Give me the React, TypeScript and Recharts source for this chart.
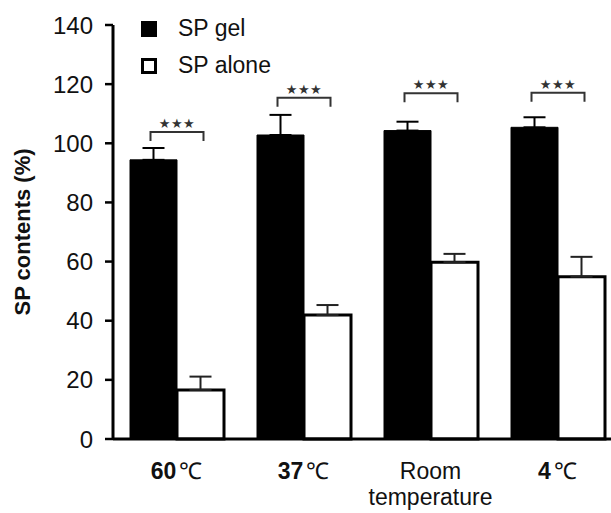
import React from "react";
import { BarChart, Bar, XAxis, YAxis, ErrorBar, LabelList, Label } from "recharts";

const categories = ["60℃", "37℃", "Room temperature", "4℃"];
const spGel = [94.4, 102.8, 104.3, 105.4];
const spGelErr = [4.0, 6.8, 3.0, 3.4];
const spAlone = [16.6, 41.9, 59.8, 54.9];
const spAloneErr = [4.5, 3.4, 2.8, 6.7];
const sigLevel = [103.8, 115.4, 116.9, 117.1];
const sigText = ["★★★", "★★★", "★★★", "★★★"];
const yTicks = [0, 20, 40, 60, 80, 100, 120, 140];
const seriesNames = ["SP gel", "SP alone"];

const data = categories.map((name, i) => ({
  name,
  gel: spGel[i],
  gelErr: [0, spGelErr[i]],
  alone: spAlone[i],
  aloneErr: [0, spAloneErr[i]],
  sig: sigLevel[i],
}));

const FONT = "'Liberation Sans', Arial, sans-serif";

function XTick(props: any) {
  const { x, y, payload } = props;
  const label: string = payload.value;
  if (label === "Room temperature") {
    return (
      <g transform={`translate(${x},${y})`}>
        <text textAnchor="middle" fontFamily={FONT} fontSize={23} fill="#111">
          <tspan x={0} dy={32}>Room</tspan>
          <tspan x={0} dy={26}>temperature</tspan>
        </text>
      </g>
    );
  }
  const num = label.replace("℃", "");
  return (
    <g transform={`translate(${x},${y})`}>
      <text textAnchor="middle" fontFamily={FONT} fontSize={23} fill="#111" dy={32}>
        <tspan fontWeight="bold">{num}</tspan>
        <tspan dx={3}>℃</tspan>
      </text>
    </g>
  );
}

function SigBracket(props: any) {
  const { x, y, width, height, value, index } = props;
  const bx = Number(x);
  const bw = Number(width);
  const by = Number(y);
  const bh = Number(height);
  const base = by + bh;
  const ppu = bh / spAlone[index];
  const top = base - Number(value) * ppu;
  const x1 = bx - bw / 2 - 3;
  const x2 = bx + bw / 2 + 3;
  const leg = 9;
  return (
    <g>
      <path
        d={`M${x1},${top + leg} L${x1},${top} L${x2},${top} L${x2},${top + leg}`}
        stroke="#333"
        strokeWidth={2}
        fill="none"
      />
      <text
        x={(x1 + x2) / 2}
        y={top - 4}
        textAnchor="middle"
        fontFamily="'DejaVu Sans', sans-serif"
        fontSize={13}
        letterSpacing={0.5}
        fill="#333"
      >
        {sigText[index]}
      </text>
    </g>
  );
}

function LegendBox() {
  return (
    <div
      style={{
        position: "absolute",
        left: 141,
        top: 10,
        fontFamily: FONT,
        fontSize: 23,
        color: "#111",
        lineHeight: "37px",
      }}
    >
      <div style={{ display: "flex", alignItems: "center" }}>
        <span style={{ width: 16, height: 16, background: "#000", display: "inline-block", marginRight: 21 }} />
        {seriesNames[0]}
      </div>
      <div style={{ display: "flex", alignItems: "center" }}>
        <span
          style={{
            width: 10,
            height: 10,
            border: "3px solid #000",
            background: "#fff",
            display: "inline-block",
            marginRight: 21,
          }}
        />
        {seriesNames[1]}
      </div>
    </div>
  );
}

export default function App() {
  return (
    <div style={{ position: "absolute", left: 0, top: 0, width: 611, height: 513, overflow: "hidden", background: "#fff" }}>
      <BarChart
        width={630}
        height={513}
        data={data}
        margin={{ top: 25, right: 9, bottom: 44, left: 13 }}
        barGap={0}
        barSize={47}
      >
        <YAxis
          width={100}
          domain={[0, 140]}
          ticks={yTicks}
          interval={0}
          axisLine={{ stroke: "#000", strokeWidth: 3 }}
          tickLine={{ stroke: "#000", strokeWidth: 2.5 }}
          tickSize={8}
          tickMargin={12}
          tick={{ fontFamily: FONT, fontSize: 24, fill: "#111" }}
        >
          <Label
            value="SP contents (%)"
            angle={-90}
            position="insideLeft"
            offset={0}
            style={{ fontFamily: FONT, fontSize: 22, fontWeight: "bold", fill: "#111", textAnchor: "middle" }}
            dx={9}
          />
        </YAxis>
        <XAxis
          dataKey="name"
          height={30}
          axisLine={{ stroke: "#000", strokeWidth: 3 }}
          tickLine={false}
          interval={0}
          tick={<XTick />}
        />
        <Bar dataKey="gel" name={seriesNames[0]} fill="#000" stroke="#000" strokeWidth={1} isAnimationActive={false}>
          <ErrorBar dataKey="gelErr" width={11} stroke="#000" strokeWidth={2} direction="y" />
        </Bar>
        <Bar dataKey="alone" name={seriesNames[1]} fill="#fff" stroke="#000" strokeWidth={3} isAnimationActive={false}>
          <ErrorBar dataKey="aloneErr" width={11} stroke="#222" strokeWidth={2} direction="y" />
          <LabelList dataKey="sig" content={<SigBracket />} />
        </Bar>
      </BarChart>
      <LegendBox />
    </div>
  );
}
